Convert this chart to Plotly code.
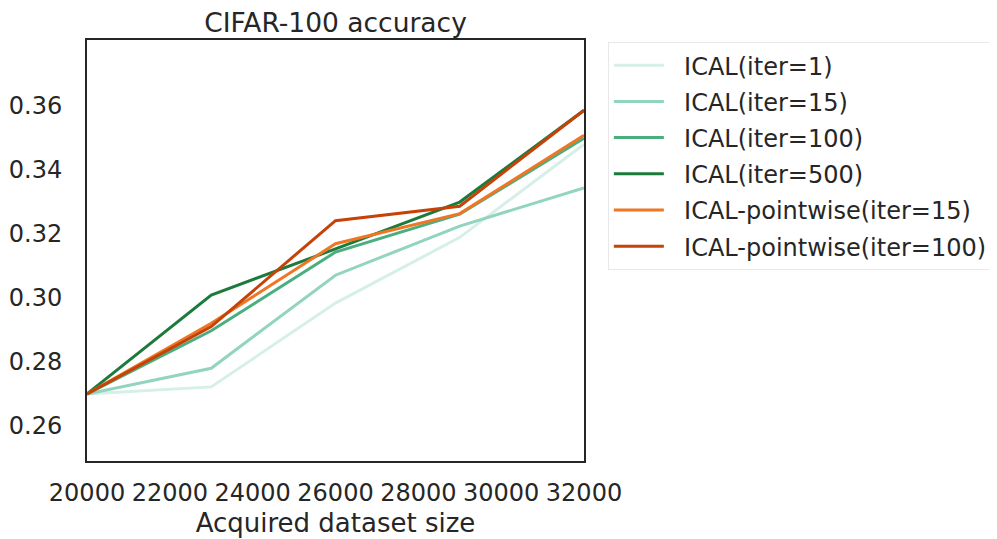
import plotly.graph_objects as go

sizes = [20000, 23000, 26000, 29000, 32000]
iter1 = [0.270, 0.2722, 0.2983, 0.3188, 0.3478]
iter15 = [0.270, 0.2780, 0.3070, 0.3223, 0.3342]
iter100 = [0.270, 0.2897, 0.3142, 0.3260, 0.3497]
iter500 = [0.270, 0.3008, 0.3152, 0.3298, 0.3584]
pw15 = [0.270, 0.2920, 0.3168, 0.3262, 0.3506]
pw100 = [0.270, 0.2910, 0.3240, 0.3285, 0.3584]

series = [
    ("ICAL(iter=1)", iter1, "#d6efe9"),
    ("ICAL(iter=15)", iter15, "#91d4c0"),
    ("ICAL(iter=100)", iter100, "#4bae7f"),
    ("ICAL(iter=500)", iter500, "#1c7b3c"),
    ("ICAL-pointwise(iter=15)", pw15, "#ee7625"),
    ("ICAL-pointwise(iter=100)", pw100, "#c54208"),
]

x_ticks = [20000, 22000, 24000, 26000, 28000, 30000, 32000]
y_ticks = [0.26, 0.28, 0.30, 0.32, 0.34, 0.36]

fig = go.Figure()
for i, (name, vals, color) in enumerate(series):
    fig.add_trace(go.Scatter(x=sizes, y=vals, mode="lines", name="\u00a0\u00a0" + name,
                             line=dict(color=color, width=3), legendgroup=str(i)))

font = "DejaVu Sans, sans-serif"
fig.update_layout(
    width=997, height=539,
    margin=dict(l=79, r=410, t=32, b=86),
    paper_bgcolor="white", plot_bgcolor="white",
    font=dict(family=font, size=24, color="#262626"),
    title=dict(text="CIFAR-100 accuracy", x=0.5, xref="paper", xanchor="center",
               y=1, yref="paper", yanchor="bottom", pad=dict(b=8),
               font=dict(size=26.5, color="#262626")),
    xaxis=dict(range=[20000, 32000], tickvals=x_ticks, ticktext=[str(v) for v in x_ticks],
               showgrid=False, zeroline=False, showline=True, linecolor="#262626", linewidth=2,
               mirror=True, ticks="outside", ticklen=9, tickcolor="rgba(0,0,0,0)",
               tickfont=dict(size=24),
               title=dict(text="Acquired dataset size", standoff=8, font=dict(size=26))),
    yaxis=dict(range=[0.2491, 0.3803], tickvals=y_ticks, ticktext=[f"{v:.2f}" for v in y_ticks],
               showgrid=False, zeroline=False, showline=True, linecolor="#262626", linewidth=2,
               mirror=True, ticks="outside", ticklen=18, tickcolor="rgba(0,0,0,0)",
               tickfont=dict(size=24), automargin=False),
    legend=dict(x=1.048, xanchor="left", y=0.995, yanchor="top", bgcolor="white",
                bordercolor="#e8e8e8", borderwidth=1, tracegroupgap=2, itemwidth=50,
                font=dict(size=24, color="#262626")),
)

fig.write_html("out.html")
